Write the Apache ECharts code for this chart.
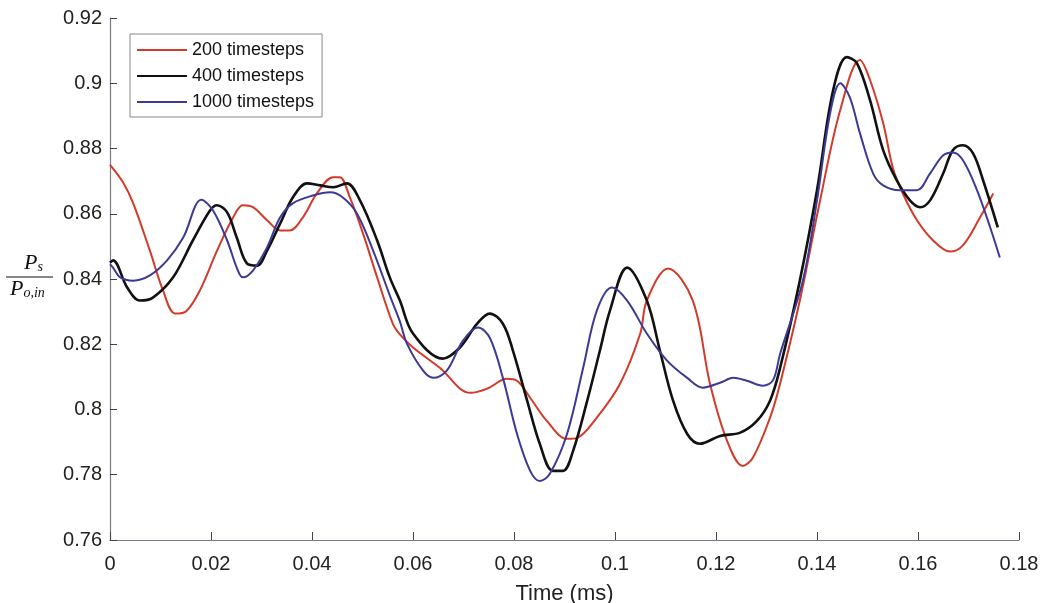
<!DOCTYPE html>
<html>
<head>
<meta charset="utf-8">
<script src="https://cdn.jsdelivr.net/npm/echarts@6/dist/echarts.min.js"></script>
<style>
  html, body { margin: 0; padding: 0; background: #fff; }
  #main { width: 1045px; height: 603px; }
</style>
</head>
<body>
<div id="main"></div>
<script>
const t200 = [0, 0.0026, 0.0046, 0.0079, 0.0105, 0.0129, 0.0152, 0.0178, 0.0212, 0.0244, 0.0263, 0.0283, 0.0311, 0.0337, 0.0356, 0.0382, 0.0410, 0.0442, 0.0455, 0.0475, 0.0501, 0.0529, 0.0560, 0.0574, 0.0600, 0.0653, 0.0713, 0.0747, 0.0786, 0.0806, 0.0832, 0.0865, 0.0905, 0.0925, 0.0964, 0.1010, 0.1050, 0.1063, 0.1105, 0.1154, 0.1188, 0.1222, 0.1253, 0.1273, 0.1307, 0.1327, 0.1366, 0.1406, 0.1446, 0.1485, 0.1505, 0.1531, 0.1550, 0.1570, 0.1598, 0.1630, 0.1663, 0.1689, 0.1723, 0.1749];
const v200 = [0.875, 0.8696, 0.8632, 0.8487, 0.8365, 0.8294, 0.8303, 0.8365, 0.8487, 0.8589, 0.8626, 0.862, 0.858, 0.8549, 0.8549, 0.8589, 0.8663, 0.8712, 0.8712, 0.865, 0.854, 0.8405, 0.8263, 0.823, 0.819, 0.8128, 0.8051, 0.8064, 0.8094, 0.8088, 0.8036, 0.7965, 0.791, 0.7913, 0.7975, 0.8079, 0.8233, 0.8334, 0.8432, 0.8334, 0.808, 0.7904, 0.7827, 0.7852, 0.7975, 0.808, 0.8334, 0.864, 0.8918, 0.9071, 0.901, 0.8878, 0.8742, 0.8662, 0.858, 0.8518, 0.8484, 0.8503, 0.8589, 0.8662];

const t400 = [0, 0.0006, 0.0034, 0.0059, 0.0085, 0.0125, 0.0164, 0.0198, 0.0212, 0.0232, 0.0251, 0.0271, 0.0291, 0.0311, 0.0337, 0.0362, 0.0390, 0.0416, 0.0442, 0.0469, 0.0495, 0.0529, 0.0554, 0.0574, 0.0600, 0.0659, 0.0693, 0.0727, 0.0752, 0.0778, 0.0798, 0.0826, 0.0851, 0.0877, 0.0897, 0.0917, 0.0945, 0.0970, 0.0990, 0.1024, 0.1063, 0.1089, 0.1115, 0.1143, 0.1168, 0.1208, 0.1248, 0.1281, 0.1307, 0.1327, 0.1366, 0.1400, 0.1432, 0.1459, 0.1479, 0.1505, 0.1531, 0.1558, 0.1584, 0.1604, 0.1624, 0.1650, 0.1669, 0.1689, 0.1709, 0.1729, 0.1758];
const v400 = [0.845, 0.8457, 0.8374, 0.8334, 0.8343, 0.8405, 0.8518, 0.861, 0.8626, 0.8604, 0.8527, 0.8448, 0.8441, 0.8487, 0.857, 0.865, 0.8693, 0.8687, 0.8681, 0.8693, 0.8641, 0.8518, 0.8405, 0.8334, 0.8233, 0.8156, 0.819, 0.8263, 0.8294, 0.8263, 0.818, 0.8027, 0.7895, 0.7812, 0.7812, 0.7873, 0.8027, 0.818, 0.8303, 0.8435, 0.8334, 0.818, 0.8027, 0.7925, 0.7895, 0.7919, 0.7929, 0.7965, 0.8027, 0.8128, 0.8395, 0.8672, 0.8979, 0.908, 0.9062, 0.8948, 0.8795, 0.8702, 0.8641, 0.862, 0.8641, 0.8724, 0.8795, 0.881, 0.8785, 0.8702, 0.8558];

const t1000 = [0, 0.0006, 0.0020, 0.0046, 0.0079, 0.0113, 0.0145, 0.0181, 0.0204, 0.0232, 0.0251, 0.0263, 0.0283, 0.0311, 0.0337, 0.0362, 0.0402, 0.0436, 0.0461, 0.0489, 0.0521, 0.0554, 0.0574, 0.0588, 0.0620, 0.0640, 0.0667, 0.0699, 0.0729, 0.0752, 0.0778, 0.0806, 0.0832, 0.0851, 0.0871, 0.0905, 0.0937, 0.0964, 0.0994, 0.1024, 0.1063, 0.1103, 0.1143, 0.1174, 0.1208, 0.1234, 0.1261, 0.1293, 0.1313, 0.1327, 0.1372, 0.1400, 0.1426, 0.1446, 0.1465, 0.1485, 0.1511, 0.1531, 0.1564, 0.1598, 0.1624, 0.1650, 0.1669, 0.1689, 0.1717, 0.1743, 0.1762];
const v1000 = [0.8445, 0.8435, 0.8405, 0.8395, 0.8411, 0.8457, 0.8527, 0.8643, 0.861, 0.8518, 0.8435, 0.8405, 0.8426, 0.8497, 0.8589, 0.8632, 0.8656, 0.8666, 0.865, 0.8601, 0.8487, 0.835, 0.827, 0.8202, 0.8119, 0.8097, 0.8119, 0.8211, 0.8251, 0.822, 0.8097, 0.7925, 0.7812, 0.7781, 0.7803, 0.7925, 0.8128, 0.8303, 0.8374, 0.8334, 0.8233, 0.815, 0.8097, 0.8067, 0.8082, 0.8097, 0.8088, 0.8073, 0.809, 0.8171, 0.8395, 0.8641, 0.8908, 0.9, 0.8957, 0.8847, 0.8724, 0.8687, 0.8672, 0.8672, 0.8724, 0.8779, 0.8788, 0.8764, 0.8672, 0.8558, 0.8466];

const seriesNames = ['200 timesteps', '400 timesteps', '1000 timesteps'];

function zip(ts, vs) {
    return ts.map(function (t, i) { return [t, vs[i]]; });
}

const axisGray = '#7a7a88';
const font = 'Liberation Sans, Arial, sans-serif';
const tickFmt = function (v) { return String(+v.toFixed(2)); };
const fracRich = {
    p: { fontFamily: 'Liberation Serif', fontStyle: 'italic', fontSize: 22, lineHeight: 22, verticalAlign: 'bottom' },
    s: { fontFamily: 'Liberation Serif', fontStyle: 'italic', fontSize: 14, lineHeight: 18, verticalAlign: 'bottom', padding: [6, 0, 0, 0] }
};

const option = {
    animation: false,
    backgroundColor: '#fff',
    grid: { left: 110, right: 26, top: 18, bottom: 63, outerBoundsMode: 'none' },
    legend: {
        orient: 'vertical',
        left: 130,
        top: 34,
        padding: [6, 8, 5, 7],
        icon: 'rect',
        itemWidth: 50,
        itemHeight: 2,
        itemGap: 6,
        borderColor: '#888',
        borderWidth: 1,
        borderRadius: 0,
        textStyle: { fontFamily: font, fontSize: 18, color: '#111', lineHeight: 20 },
        data: seriesNames
    },
    xAxis: {
        type: 'value',
        min: 0,
        max: 0.18,
        interval: 0.02,
        name: 'Time (ms)',
        nameLocation: 'middle',
        nameGap: 43,
        nameTextStyle: { fontFamily: font, fontSize: 22, color: '#222' },
        axisLine: { lineStyle: { color: axisGray, width: 1.2 } },
        axisTick: { inside: true, length: 8, lineStyle: { color: '#444' } },
        axisLabel: { fontFamily: font, fontSize: 20, color: '#222', margin: 14, formatter: tickFmt },
        splitLine: { show: false }
    },
    yAxis: {
        type: 'value',
        min: 0.76,
        max: 0.92,
        interval: 0.02,
        axisLine: { show: true, lineStyle: { color: axisGray, width: 1.2 } },
        axisTick: { show: true, inside: true, length: 7, lineStyle: { color: '#444' } },
        axisLabel: { fontFamily: font, fontSize: 20, color: '#222', margin: 8, formatter: tickFmt },
        splitLine: { show: false }
    },
    graphic: [
        {
            type: 'text', left: 24, top: 252,
            style: { text: '{p|P}{s|s}', rich: fracRich, fill: '#111' }
        },
        {
            type: 'line', shape: { x1: 6, y1: 277, x2: 53, y2: 277 },
            style: { stroke: '#111', lineWidth: 1 }
        },
        {
            type: 'text', left: 10, top: 278,
            style: { text: '{p|P}{s|o,in}', rich: fracRich, fill: '#111' }
        }
    ],
    series: [
        {
            name: seriesNames[0], type: 'line', symbol: 'none', smooth: 0.35,
            data: zip(t200, v200),
            lineStyle: { color: '#d23a2a', width: 2 }, itemStyle: { color: '#d23a2a' }
        },
        {
            name: seriesNames[1], type: 'line', symbol: 'none', smooth: 0.35,
            data: zip(t400, v400),
            lineStyle: { color: '#111111', width: 2.6 }, itemStyle: { color: '#111111' }
        },
        {
            name: seriesNames[2], type: 'line', symbol: 'none', smooth: 0.35,
            data: zip(t1000, v1000),
            lineStyle: { color: '#3b3a94', width: 2 }, itemStyle: { color: '#3b3a94' }
        }
    ]
};

var myChart = echarts.init(document.getElementById('main'));
myChart.setOption(option);
</script>
</body>
</html>
